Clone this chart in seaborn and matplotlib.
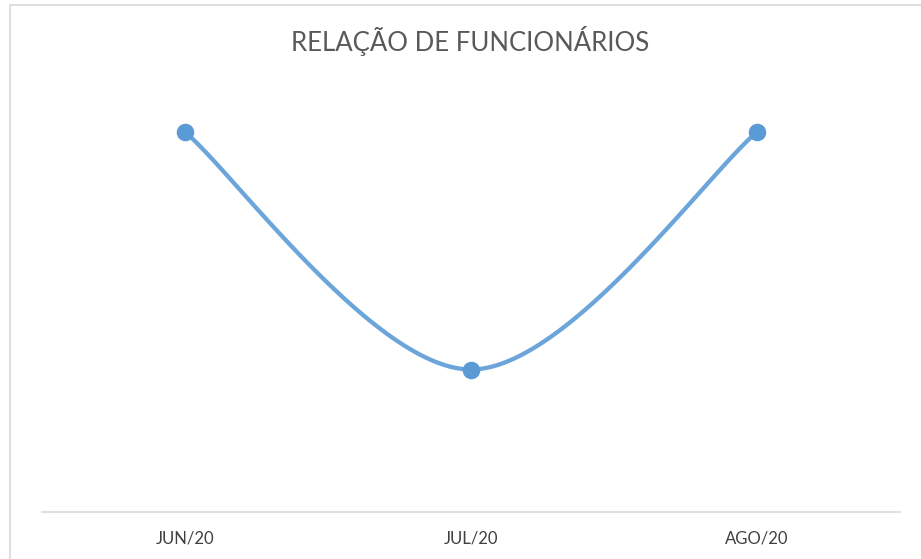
import numpy as np
import matplotlib
matplotlib.use("Agg")
import matplotlib.pyplot as plt
import seaborn as sns
from matplotlib.lines import Line2D

categories = ["JUN/20", "JUL/20", "AGO/20"]
values = [3, 2, 3]
title = "RELAÇÃO DE FUNCIONÁRIOS"

sns.set_theme(style="white")
plt.rcParams["font.family"] = ["Lato", "DejaVu Sans"]

W, H = 921, 559
fig = plt.figure(figsize=(W / 100, H / 100), dpi=100)
ax = fig.add_axes([42 / W, (H - 512) / H, (900 - 42) / W, (512 - 75) / H])

xs = np.arange(len(categories), dtype=float)
ys = np.array(values, dtype=float)

# Excel-style smoothed line (cubic Bezier, Catmull-Rom control points)
pts = np.column_stack([xs, ys])
curve = []
n = len(pts)
for i in range(n - 1):
    p0 = pts[max(i - 1, 0)]
    p1 = pts[i]
    p2 = pts[i + 1]
    p3 = pts[min(i + 2, n - 1)]
    c1 = p1 + (p2 - p0) / 6
    c2 = p2 - (p3 - p1) / 6
    t = np.linspace(0, 1, 60)[:, None]
    seg = ((1 - t) ** 3) * p1 + 3 * ((1 - t) ** 2) * t * c1 + 3 * (1 - t) * t ** 2 * c2 + t ** 3 * p2
    curve.append(seg if i == 0 else seg[1:])
curve = np.vstack(curve)

color = "#5B9BD5"
ax.plot(curve[:, 0], curve[:, 1], color="#6BA5DA", lw=3.1, solid_capstyle="round", zorder=2)
sns.scatterplot(x=xs, y=ys, ax=ax, s=160, color=color, edgecolor=color, linewidth=0, zorder=3)

ax.set_xlim(-0.5, len(categories) - 0.5)
ax.set_ylim(1.4, 3.24)
ax.set_xticks(xs)
ax.set_xticklabels(categories, fontsize=12, color="#404040")
ax.set_yticks([])
for s in ["top", "right", "left"]:
    ax.spines[s].set_visible(False)
ax.spines["bottom"].set_color("#D9D9D9")
ax.spines["bottom"].set_linewidth(1.2)
ax.tick_params(axis="x", length=0, pad=13)
ax.set_facecolor("white")

fig.text(470 / W, 1 - 41 / H, title, ha="center", va="center", fontsize=18.5, color="#595959")

# chart frame
fig.add_artist(Line2D([10 / W, 1], [1 - 4.5 / H, 1 - 4.5 / H], color="#D9D9D9", lw=1.2))
fig.add_artist(Line2D([10 / W, 10 / W], [0, 1 - 4.5 / H], color="#D9D9D9", lw=1.2))

fig.savefig("out.png", dpi=100, facecolor="white")
